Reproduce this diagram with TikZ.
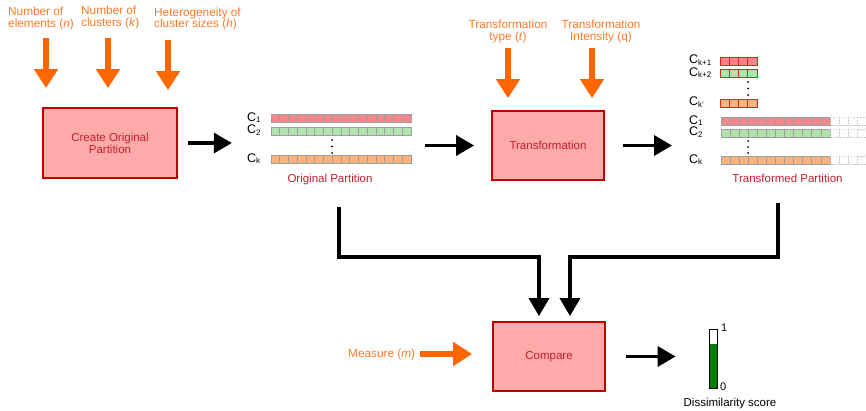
\documentclass[tikz,border=0pt]{standalone}
\usepackage{fontspec}
\setmainfont{Liberation Sans}
\usetikzlibrary{arrows.meta,calc}
\definecolor{orA}{HTML}{FF6600}
\definecolor{orT}{HTML}{FF7A26}
\definecolor{bxF}{HTML}{FFAAAA}
\definecolor{bxD}{HTML}{C00000}
\definecolor{bxT}{HTML}{C0202A}
\definecolor{cR}{HTML}{F2878C}
\definecolor{cG}{HTML}{B2E2AE}
\definecolor{cO}{HTML}{FFB27E}
\definecolor{cRd}{HTML}{E02020}
\definecolor{scG}{HTML}{008000}
\newcommand\pbar[7]{%
  \foreach \i in {1,...,#3}{%
    \draw[fill=#6,draw=#7,line width=0.7pt] ({#1+(\i-1)*#4},#2) rectangle ++(#4,#5);
  }}
\newcommand\csub[1]{\raisebox{-1.6pt}{\fontsize{8}{8}\selectfont #1}}
\begin{document}
\begin{tikzpicture}[x=1pt,y=-1pt,
  proc/.style={draw=bxD,fill=bxF,line width=1.8pt,minimum width=112pt,minimum height=69pt,text=bxT,font=\fontsize{11.5}{12}\selectfont,align=center,inner sep=0},
  olab/.style={text=orT,font=\fontsize{11.8}{11.5}\selectfont,inner sep=0},
  oarr/.style={draw=orA,line width=5.5pt,-{Triangle[width=23pt,length=19pt]}},
  barr/.style={draw=black,line width=3.5pt,-{Triangle[width=20pt,length=18pt]}},
  clab/.style={font=\fontsize{12.5}{12.5}\selectfont,inner sep=0,anchor=base west},
  plab/.style={text=bxT,font=\fontsize{11.5}{12}\selectfont,inner sep=0},
  dots/.style={fill=black,circle,inner sep=0,minimum size=2pt},
]
\useasboundingbox (0,0) rectangle (866,410);

% ---- process boxes
\node[proc,minimum width=134pt,minimum height=70pt] (create) at (110,143) {Create Original\\Partition};
\node[proc] (transf) at (548,145.5) {Transformation};
\node[proc] (compare) at (549,356.5) {Compare};

% ---- orange input labels
\node[olab,align=left,anchor=west] (ln) at (8,18.5) {Number of\\elements (\textit{n})};
\node[olab,align=left,anchor=west] (lk) at (81,17.5) {Number of\\clusters (\textit{k})};
\node[olab,align=left,anchor=west] (lh) at (154,19) {Heterogeneity of\\cluster sizes (\textit{h})};
\node[olab,align=center] (lt) at (508,31.5) {Transformation\\type (\textit{t})};
\node[olab,align=center] (lq) at (601,31.5) {Transformation\\Intensity (q)};
\node[olab,anchor=west] (lm) at (348,354) {Measure (\textit{m})};

\coordinate (a1) at (46,38);
\coordinate (a2) at (108,38);
\coordinate (a3) at (168,40);
\coordinate (t1) at (508,48);
\coordinate (t2) at (592,48);
\draw[oarr,shorten >=19pt] (a1) -- (a1 |- create.north);
\draw[oarr,shorten >=19pt] (a2) -- (a2 |- create.north);
\draw[oarr,shorten >=17pt] (a3) -- (a3 |- create.north);
\draw[oarr,shorten >=12pt] (t1) -- (t1 |- transf.north);
\draw[oarr,shorten >=12pt] (t2) -- (t2 |- transf.north);
\draw[oarr,shorten >=20pt,shorten <=5pt] (lm.east) -- (lm.east -| compare.west);

% ---- original partition
\node[inner sep=0,minimum width=168pt,minimum height=56pt] (origpart) at (329,138.5) {};
\pbar{271}{114}{16}{8.75}{8}{cR}{black!38}
\pbar{271}{127}{16}{8.75}{8}{cG}{black!38}
\pbar{271}{155.5}{16}{8.75}{8}{cO}{black!38}
\node[dots] (od1) at (332,140) {};
\node[dots] (od2) at (332,146.5) {};
\node[dots] (od3) at (332,153) {};
\node[clab] (oc1) at (247,121) {C\csub{1}};
\node[clab] (oc2) at (247,133.5) {C\csub{2}};
\node[clab] (ock) at (247,162) {C\csub{k}};
\node[plab] (olabel) at (330,180) {Original Partition};

% ---- transformed partition
\node[inner sep=0,minimum width=178pt,minimum height=60pt,anchor=west] (tpart) at (688,140) {};
\pbar{720}{57}{4}{9.25}{8}{cR}{cRd}
\pbar{720}{69.5}{4}{9.25}{8}{cG}{cRd}
\pbar{720}{99}{4}{9.25}{8}{cO}{cRd}
\pbar{721}{117}{12}{9.08}{8}{cR}{black!38}
\pbar{721}{129}{12}{9.08}{8}{cG}{black!38}
\pbar{721}{156.5}{12}{9.08}{8}{cO}{black!38}
\foreach \yy in {117,129,156.5}{
  \foreach \i in {0,...,3}{
    \draw[black!22,line width=0.7pt,dash pattern=on 1.5pt off 1.5pt] ({830+\i*9.1},\yy) rectangle ++(9.1,8);
  }}
\node[dots] (td1) at (748,82) {};
\node[dots] (td2) at (748,88.5) {};
\node[dots] (td3) at (748,95) {};
\node[dots] (td4) at (748,141) {};
\node[dots] (td5) at (748,147) {};
\node[dots] (td6) at (748,153) {};
\node[clab] (tck1) at (689,63.5) {C\csub{k+1}};
\node[clab] (tck2) at (689,76) {C\csub{k+2}};
\node[clab] (tckp) at (689,105.5) {C\csub{k'}};
\node[clab] (tc1) at (689,124) {C\csub{1}};
\node[clab] (tc2) at (689,135.5) {C\csub{2}};
\node[clab] (tck) at (689,163) {C\csub{k}};
\node[plab] (tlabel) at (787.5,178) {Transformed Partition};

% ---- dissimilarity score
\node[draw=black,line width=0.8pt,fill=white,inner sep=0,minimum width=8pt,minimum height=59pt] (score) at (713,358.5) {};
\fill[scG] (709,344) rectangle (717,388);
\draw[black,line width=0.8pt] (709,329) rectangle (717,388);
\node[inner sep=0,font=\fontsize{11}{11}\selectfont,anchor=west] (s1) at (721,328) {1};
\node[inner sep=0,font=\fontsize{11}{11}\selectfont,anchor=west] (s0) at (720,387) {0};
\node[inner sep=0,font=\fontsize{11.5}{12}\selectfont] (slabel) at (730,404) {Dissimilarity score};

% ---- black arrows
\draw[barr,shorten <=10pt,shorten >=13pt] (create.east) -- (create.east -| origpart.west);
\draw[barr,shorten <=12pt,shorten >=17pt] (origpart.east |- transf.west) -- (transf.west);
\draw[barr,shorten <=18pt,shorten >=16pt] (transf.east) -- (transf.east -| tpart.west);
\draw[barr,shorten <=20pt,shorten >=33pt] (compare.east) -- (compare.east -| score.west);

\coordinate (ob) at (339,207);
\coordinate (tb) at (778,203);
\coordinate (j1) at (539,257);
\coordinate (j2) at (570,257);
\draw[barr,shorten >=5pt] (ob) |- (j1) -- (j1 |- compare.north);
\draw[barr,shorten >=5pt] (tb) |- (j2) -- (j2 |- compare.north);
\end{tikzpicture}
\end{document}
